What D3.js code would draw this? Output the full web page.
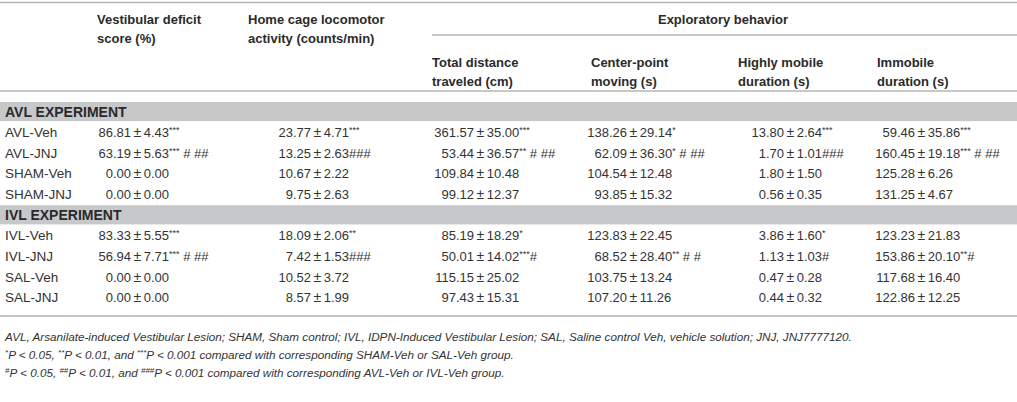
<!DOCTYPE html>
<html lang="en">
<head>
    <meta charset="UTF-8">
    <title>AVL / IVL table</title>
    <script src="https://d3js.org/d3.v7.min.js"></script>
    <style>
        body { margin: 0; background: #fff; }
        svg text { font-family: "Liberation Sans", Arial, sans-serif; fill: #333; }
        .head { font-weight: bold; font-size: 13px; fill: #2a2a2a; }
        .bandLabel { font-size: 14px; }
        .cell { font-size: 13px; }
        .rowLabel { font-size: 13.5px; }
        .foot { font-size: 11.7px; font-style: italic; }
    </style>
</head>
<body>
    <div id="table"></div>
    <script>
        // row order, group bands included
        const rowOrder = ["AVL EXPERIMENT", "AVL-Veh", "AVL-JNJ", "SHAM-Veh", "SHAM-JNJ",
            "IVL EXPERIMENT", "IVL-Veh", "IVL-JNJ", "SAL-Veh", "SAL-JNJ"];
        const groupTitles = ["AVL EXPERIMENT", "IVL EXPERIMENT"];
        const groupLabels = rowOrder.filter(d => !groupTitles.includes(d));

        const columns = ["vestibular", "homecage", "distance", "center", "mobile", "immobile"];
        const headers = [
            ["Vestibular deficit", "score (%)"],
            ["Home cage locomotor", "activity (counts/min)"],
            ["Total distance", "traveled (cm)"],
            ["Center-point", "moving (s)"],
            ["Highly mobile", "duration (s)"],
            ["Immobile", "duration (s)"]
        ];
        const spanTitle = "Exploratory behavior";

        // each cell: mean, sd, stars, hashes
        const vestibular = [
            ["86.81", "4.43", "***", ""], ["63.19", "5.63", "***", " # ##"], ["0.00", "0.00", "", ""], ["0.00", "0.00", "", ""],
            ["83.33", "5.55", "***", ""], ["56.94", "7.71", "***", " # ##"], ["0.00", "0.00", "", ""], ["0.00", "0.00", "", ""]
        ];
        const homecage = [
            ["23.77", "4.71", "***", ""], ["13.25", "2.63", "", "###"], ["10.67", "2.22", "", ""], ["9.75", "2.63", "", ""],
            ["18.09", "2.06", "**", ""], ["7.42", "1.53", "", "###"], ["10.52", "3.72", "", ""], ["8.57", "1.99", "", ""]
        ];
        const distance = [
            ["361.57", "35.00", "***", ""], ["53.44", "36.57", "**", " # ##"], ["109.84", "10.48", "", ""], ["99.12", "12.37", "", ""],
            ["85.19", "18.29", "*", ""], ["50.01", "14.02", "***", "#"], ["115.15", "25.02", "", ""], ["97.43", "15.31", "", ""]
        ];
        const center = [
            ["138.26", "29.14", "*", ""], ["62.09", "36.30", "*", " # ##"], ["104.54", "12.48", "", ""], ["93.85", "15.32", "", ""],
            ["123.83", "22.45", "", ""], ["68.52", "28.40", "**", " # #"], ["103.75", "13.24", "", ""], ["107.20", "11.26", "", ""]
        ];
        const mobile = [
            ["13.80", "2.64", "***", ""], ["1.70", "1.01", "", "###"], ["1.80", "1.50", "", ""], ["0.56", "0.35", "", ""],
            ["3.86", "1.60", "*", ""], ["1.13", "1.03", "", "#"], ["0.47", "0.28", "", ""], ["0.44", "0.32", "", ""]
        ];
        const immobile = [
            ["59.46", "35.86", "***", ""], ["160.45", "19.18", "***", " # ##"], ["125.28", "6.26", "", ""], ["131.25", "4.67", "", ""],
            ["123.23", "21.83", "", ""], ["153.86", "20.10", "**", "#"], ["117.68", "16.40", "", ""], ["122.86", "12.25", "", ""]
        ];
        const cellData = { vestibular, homecage, distance, center, mobile, immobile };

        // footnotes: [superscript, text] pieces
        const footnotes = [
            [["", "AVL, Arsanilate-induced Vestibular Lesion; SHAM, Sham control; IVL, IDPN-Induced Vestibular Lesion; SAL, Saline control Veh, vehicle solution; JNJ, JNJ7777120."]],
            [["*", "P < 0.05, "], ["**", "P < 0.01, and "], ["***", "P < 0.001 compared with corresponding SHAM-Veh or SAL-Veh group."]],
            [["#", "P < 0.05, "], ["##", "P < 0.01, and "], ["###", "P < 0.001 compared with corresponding AVL-Veh or IVL-Veh group."]]
        ];

        const W = 1017, H = 402;
        const svg = d3.select("#table").append("svg").attr("width", W).attr("height", H);

        const y = d3.scaleBand().domain(rowOrder).range([101.5, 308]);
        const colX = d3.scaleOrdinal().domain(columns).range([97, 248, 432, 591, 738, 877]);
        const meanEnd = d3.scaleOrdinal().domain(columns).range([131, 311, 474, 627, 784, 915]);
        const ruleColor = "#b4b4b4";
        const baseY = d => y(d) + y.bandwidth() / 2 + 4.5;

        // rules
        function rule(x1, x2, yy) {
            svg.append("line").attr("x1", x1).attr("x2", x2).attr("y1", yy).attr("y2", yy)
                .attr("stroke", ruleColor).attr("stroke-width", 1.5);
        }
        rule(0, W, 2.5);
        rule(colX("distance"), W, 35);
        rule(0, W, 91);
        rule(0, W, 316);

        // header
        columns.forEach(function (c, i) {
            const top = i < 2 ? 24 : 67;
            const t = svg.append("text").attr("class", "head").attr("x", colX(c)).attr("y", top);
            headers[i].forEach(function (line, j) {
                t.append("tspan").attr("x", colX(c)).attr("dy", j === 0 ? 0 : 19).text(line);
            });
        });
        svg.append("text").attr("class", "head")
            .attr("x", 723).attr("y", 24).attr("text-anchor", "middle").text(spanTitle);

        // group bands
        svg.selectAll(".band").data(groupTitles).enter().append("rect")
            .attr("class", "band")
            .attr("x", 0).attr("width", W)
            .attr("y", d => y(d) + 0.5).attr("height", y.bandwidth() - 1.5)
            .attr("fill", "#c7c8ca");
        svg.selectAll(".bandLabel").data(groupTitles).enter().append("text")
            .attr("class", "head bandLabel")
            .attr("x", 5).attr("y", d => baseY(d) + 0.5)
            .text(d => d);

        // row labels
        svg.selectAll(".rowLabel").data(groupLabels).enter().append("text")
            .attr("class", "cell rowLabel")
            .attr("x", 5).attr("y", baseY)
            .text(d => d);

        // cells, aligned on the ± sign
        columns.forEach(function (c) {
            const g = svg.append("g");
            const vals = cellData[c].map((v, i) => ({ row: groupLabels[i], v: v }));
            g.selectAll(".mean").data(vals).enter().append("text")
                .attr("class", "cell mean")
                .attr("x", meanEnd(c)).attr("y", d => baseY(d.row))
                .attr("text-anchor", "end")
                .text(d => d.v[0]);
            g.selectAll(".rest").data(vals).enter().append("text")
                .attr("class", "cell rest")
                .attr("x", meanEnd(c) + 2.5).attr("y", d => baseY(d.row))
                .each(function (d) {
                    const t = d3.select(this);
                    t.append("tspan").attr("font-size", "14px").text("\u00b1");
                    t.append("tspan").attr("dx", 2.5).text(d.v[1]);
                    if (d.v[2]) t.append("tspan").attr("font-size", "9px").attr("dy", -4).text(d.v[2]);
                    if (d.v[3]) t.append("tspan").attr("dy", d.v[2] ? 4 : 0).text(d.v[3]);
                });
        });

        // footnotes
        footnotes.forEach(function (parts, i) {
            const t = svg.append("text").attr("class", "foot").attr("x", 5).attr("y", 341 + i * 18);
            parts.forEach(function (p) {
                if (p[0]) t.append("tspan").attr("font-size", "8px").attr("dy", -4).text(p[0]);
                t.append("tspan").attr("dy", p[0] ? 4 : 0).text(p[1]);
            });
        });
    </script>
</body>
</html>
